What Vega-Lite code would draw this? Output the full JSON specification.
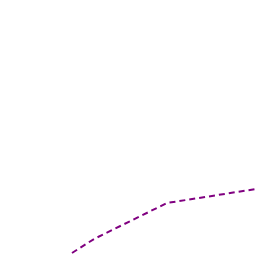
{
  "$schema": "https://vega.github.io/schema/vega-lite/v6.json",
  "width": 256,
  "height": 256,
  "autosize": {"type": "fit", "contains": "padding"},
  "padding": 0,
  "config": {"view": {"stroke": null}},
  "data": {"values": [
    {"x": 72, "y": 3},
    {"x": 94, "y": 17},
    {"x": 167, "y": 53},
    {"x": 256, "y": 67}
  ]},
  "mark": {"type": "line", "color": "#800080", "strokeWidth": 2, "strokeDash": [6, 4], "clip": true},
  "encoding": {
    "x": {"field": "x", "type": "quantitative", "scale": {"domain": [0, 256], "nice": false, "zero": false}, "axis": null},
    "y": {"field": "y", "type": "quantitative", "scale": {"domain": [0, 256], "nice": false, "zero": false}, "axis": null}
  }
}
